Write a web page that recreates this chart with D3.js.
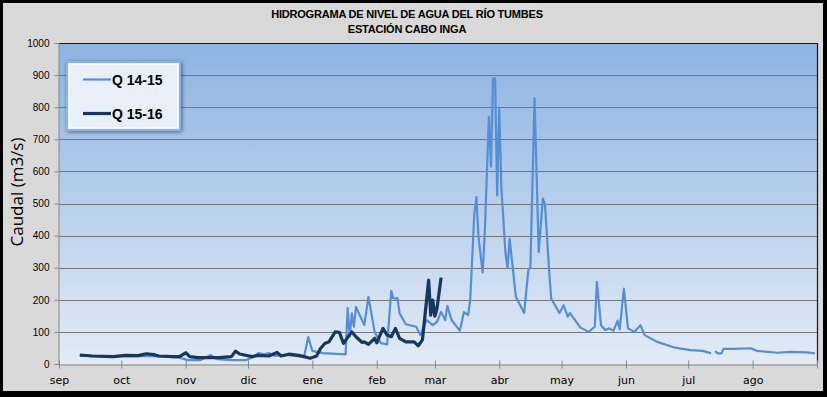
<!DOCTYPE html>
<html>
<head>
<meta charset="utf-8">
<script src="https://cdn.jsdelivr.net/npm/d3@7"></script>
<style>
  body { margin: 0; background: #000; }
  svg { display: block; }
</style>
</head>
<body>
<svg id="chart" width="827" height="397"></svg>
<script>
// season axis: 1 sep -> 1 sep of next year; dates kept as "MM-DD"
var monthLabels = ["sep", "oct", "nov", "dic", "ene", "feb", "mar", "abr", "may", "jun", "jul", "ago", ""];
var yTicks = [0, 100, 200, 300, 400, 500, 600, 700, 800, 900, 1000];
var seriesNames = ["Q 14-15", "Q 15-16"];

var dates1415 = ["09-11", "09-26", "10-10", "10-20", "10-29", "11-02", "11-08", "11-13", "11-16", "11-23",
  "11-30", "12-03", "12-06", "12-09", "12-11", "12-14", "12-19", "12-26", "12-28", "12-30",
  "01-01", "01-06", "01-17", "01-18", "01-19", "01-20", "01-21", "01-22", "01-26", "01-28",
  "01-31", "02-03", "02-06", "02-08", "02-09", "02-11", "02-12", "02-15", "02-20", "02-22",
  "02-25", "02-28", "03-02", "03-04", "03-06", "03-07", "03-09", "03-13", "03-15", "03-17",
  "03-18", "03-20", "03-21", "03-22", "03-24", "03-25", "03-27", "03-28", "03-29", "03-30",
  "03-31", "04-01", "04-02", "04-04", "04-05", "04-06", "04-09", "04-13", "04-15", "04-16",
  "04-18", "04-20", "04-22", "04-23", "04-25", "04-26", "04-30", "05-02", "05-04", "05-05",
  "05-10", "05-14", "05-17", "05-18", "05-20", "05-22", "05-24", "05-26", "05-28", "05-29",
  "05-31", "06-02", "06-05", "06-08", "06-10", "06-16", "06-24", "07-02", "07-08", "07-12",
  "07-13", "07-14", "07-15", "07-17", "07-18", "07-23", "07-31", "08-03", "08-13", "08-19",
  "08-27", "08-31"];
var q1415 = [26, 24, 25, 24, 20, 12, 12, 28, 15, 12,
  12, 20, 34, 30, 34, 25, 28, 24, 22, 84,
  41, 34, 30, 174, 85, 158, 116, 178, 121, 209,
  100, 65, 61, 228, 204, 205, 158, 124, 116, 90,
  137, 121, 131, 162, 137, 181, 137, 104, 162, 152,
  199, 468, 520, 395, 285, 406, 770, 615, 890, 890,
  525, 799, 551, 344, 299, 390, 209, 159, 292, 302,
  828, 349, 515, 499, 292, 204, 159, 183, 147, 159,
  114, 100, 116, 256, 121, 106, 111, 104, 135, 108,
  235, 111, 100, 121, 90, 69, 52, 43, 41, 33,
  null, 41, 33, 33, 47, 47, 49, 41, 35, 38,
  36, 33];

var dates1516 = ["09-11", "09-17", "09-27", "10-03", "10-09", "10-13", "10-17", "10-19", "10-26", "10-29",
  "11-01", "11-03", "11-07", "11-17", "11-23", "11-25", "11-27", "12-03", "12-06", "12-11",
  "12-15", "12-17", "12-21", "12-26", "12-31", "01-03", "01-05", "01-07", "01-09", "01-12",
  "01-14", "01-16", "01-18", "01-20", "01-22", "01-25", "01-26", "01-28", "01-31", "02-01",
  "02-04", "02-06", "02-08", "02-10", "02-12", "02-15", "02-19", "02-21", "02-23", "02-24",
  "02-26", "02-27", "02-28", "03-01", "03-02", "03-04"];
var q1516 = [28, 25, 23, 27, 26, 32, 29, 25, 23, 23,
  35, 23, 20, 20, 23, 40, 31, 23, 27, 25,
  36, 25, 31, 26, 18, 25, 49, 64, 69, 100,
  99, 64, 83, 100, 85, 67, 69, 61, 80, 66,
  111, 90, 85, 111, 80, 69, 69, 57, 75, 137,
  261, 152, 199, 149, 173, 269];

function seasonDate(md) {
  var m = +md.slice(0, 2), d = +md.slice(3);
  return new Date(m >= 9 ? 2014 : 2015, m - 1, d);
}

(function () {
  var svg = d3.select("#chart");
  var W = 827, H = 397;
  var pL = 59, pR = 817, pT = 43, pB = 364;
  var narrow = "'Liberation Sans', Arial, sans-serif";

  // outer chart area
  svg.append("rect").attr("x", 0).attr("y", 0).attr("width", W).attr("height", H).attr("fill", "#000");
  svg.append("rect").attr("x", 3).attr("y", 3).attr("width", 820).attr("height", 388).attr("fill", "#d9d9d9");

  var defs = svg.append("defs");
  var grad = defs.append("linearGradient").attr("id", "plotBg").attr("x1", 0).attr("y1", 0).attr("x2", 0).attr("y2", 1);
  grad.append("stop").attr("offset", "0%").attr("stop-color", "#8db3e2");
  grad.append("stop").attr("offset", "100%").attr("stop-color", "#e3ebf6");
  var shadow = defs.append("filter").attr("id", "shadow").attr("x", "-20%").attr("y", "-20%").attr("width", "140%").attr("height", "140%");
  shadow.append("feGaussianBlur").attr("in", "SourceAlpha").attr("stdDeviation", 2);
  shadow.append("feOffset").attr("dx", 1).attr("dy", 1).attr("result", "b");
  shadow.append("feComponentTransfer").append("feFuncA").attr("type", "linear").attr("slope", 0.5);
  var merge = shadow.append("feMerge");
  merge.append("feMergeNode");
  merge.append("feMergeNode").attr("in", "SourceGraphic");

  var x = d3.scaleTime().domain([new Date(2014, 8, 1), new Date(2015, 8, 1)]).range([pL, pR]);
  var y = d3.scaleLinear().domain([0, 1000]).range([pB, pT]);

  svg.append("rect").attr("x", pL).attr("y", pT).attr("width", pR - pL).attr("height", pB - pT)
    .attr("fill", "url(#plotBg)");

  // gridlines
  svg.append("g").selectAll("line").data(yTicks.filter(function (v) { return v > 0 && v < 1000; }))
    .enter().append("line")
    .attr("x1", pL).attr("x2", pR)
    .attr("y1", function (d) { return Math.round(y(d)) + 0.5; })
    .attr("y2", function (d) { return Math.round(y(d)) + 0.5; })
    .attr("stroke", "#767676").attr("stroke-width", 1);

  // plot border top/right
  svg.append("path")
    .attr("d", "M" + pL + "," + (pT + 0.5) + "H" + (pR + 0.5) + "V" + pB)
    .attr("fill", "none").attr("stroke", "#1a1a1a").attr("stroke-width", 1.2);

  // y axis
  var yAxis = svg.append("g").attr("transform", "translate(" + (pL - 0.5) + ",0)")
    .call(d3.axisLeft(y).tickValues(yTicks).tickFormat(d3.format("d")).tickSize(4).tickPadding(5));
  yAxis.select(".domain").attr("stroke", "#868686");
  yAxis.selectAll(".tick line").attr("stroke", "#868686");
  yAxis.selectAll("text").attr("fill", "#000").style("font-family", narrow).style("font-size", "10px");

  // x axis
  var monthTicks = d3.timeMonth.range(new Date(2014, 8, 1), new Date(2015, 8, 2));
  var xAxis = svg.append("g").attr("transform", "translate(0," + (pB + 0.5) + ")")
    .call(d3.axisBottom(x).tickValues(monthTicks)
      .tickFormat(function (d, i) { return monthLabels[i]; })
      .tickSizeInner(4).tickSizeOuter(0).tickPadding(8));
  xAxis.select(".domain").attr("stroke", "#868686");
  xAxis.selectAll(".tick line").attr("stroke", "#868686").attr("y1", -4).attr("y2", 4);
  xAxis.selectAll("text").attr("fill", "#000").style("font-family", "'DejaVu Sans', sans-serif").style("font-size", "11px");

  // series
  var line = d3.line()
    .defined(function (d) { return d[1] !== null; })
    .x(function (d) { return x(seasonDate(d[0])); })
    .y(function (d) { return y(d[1]); });

  svg.append("path").datum(d3.zip(dates1415, q1415))
    .attr("d", line).attr("fill", "none")
    .attr("stroke", "#558ed5").attr("stroke-width", 2.2).attr("stroke-linejoin", "round");

  svg.append("path").datum(d3.zip(dates1516, q1516))
    .attr("d", line).attr("fill", "none")
    .attr("stroke", "#17375e").attr("stroke-width", 3.2).attr("stroke-linejoin", "round");

  // titles
  var title = svg.append("text").attr("text-anchor", "middle")
    .style("font-family", narrow).style("letter-spacing", "-0.2px")
    .style("font-weight", "bold").style("font-size", "11px").attr("fill", "#000");
  title.append("tspan").attr("x", 407).attr("y", 18).text("HIDROGRAMA DE NIVEL DE AGUA DEL RÍO TUMBES");
  title.append("tspan").attr("x", 407).attr("y", 33).text("ESTACIÓN CABO INGA");

  svg.append("text")
    .attr("transform", "translate(23,192) rotate(-90)")
    .attr("text-anchor", "middle")
    .style("font-family", "'Open Sans', sans-serif").style("font-size", "17px")
    .attr("fill", "#000").text("Caudal (m3/s)");

  // legend
  var legend = svg.append("g");
  legend.append("rect").attr("x", 67).attr("y", 62).attr("width", 113).attr("height", 68)
    .attr("fill", "#e8eff9").attr("stroke", "#8db3e2").attr("stroke-width", 2)
    .attr("filter", "url(#shadow)");
  legend.append("rect").attr("x", 69.5).attr("y", 64.5).attr("width", 108).attr("height", 63)
    .attr("fill", "none").attr("stroke", "#ffffff").attr("stroke-width", 1).attr("opacity", 0.7);
  var legendItems = [
    { name: seriesNames[0], color: "#558ed5", width: 2.2, y: 79.5 },
    { name: seriesNames[1], color: "#17375e", width: 3.2, y: 113.5 }
  ];
  legendItems.forEach(function (it) {
    legend.append("line").attr("x1", 83).attr("x2", 111).attr("y1", it.y).attr("y2", it.y)
      .attr("stroke", it.color).attr("stroke-width", it.width);
    legend.append("text").attr("x", 112).attr("y", it.y + 5)
      .style("font-family", narrow)
      .style("font-weight", "bold").style("font-size", "14px").attr("fill", "#000").text(it.name);
  });
})();
</script>
</body>
</html>
